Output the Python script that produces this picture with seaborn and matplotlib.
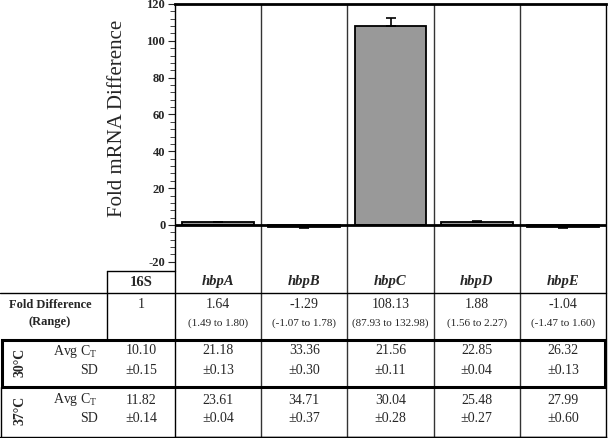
import matplotlib
matplotlib.use("Agg")
import matplotlib.pyplot as plt
import matplotlib.transforms as mtransforms
from matplotlib.lines import Line2D
from matplotlib.patches import Rectangle
from matplotlib.ticker import FixedLocator
import seaborn as sns
import pandas as pd

# ---------------- data ----------------
genes = ['hbpA', 'hbpB', 'hbpC', 'hbpD', 'hbpE']
fold = [1.64, -1.29, 108.13, 1.88, -1.04]
err = [0.2, 0.3, 4.0, 0.2, 0.4]

table_genes = ['16S', 'hbpA', 'hbpB', 'hbpC', 'hbpD', 'hbpE']
fold_text = ['1', '1.64', '-1.29', '108.13', '1.88', '-1.04']
range_text = ['', '(1.49 to 1.80)', '(-1.07 to 1.78)', '(87.93 to 132.98)',
              '(1.56 to 2.27)', '(-1.47 to 1.60)']
ct30 = ['10.10', '21.18', '33.36', '21.56', '22.85', '26.32']
sd30 = ['±0.15', '±0.13', '±0.30', '±0.11', '±0.04', '±0.13']
ct37 = ['11.82', '23.61', '34.71', '30.04', '25.48', '27.99']
sd37 = ['±0.14', '±0.04', '±0.37', '±0.28', '±0.27', '±0.60']

yticks = [-20, 0, 20, 40, 60, 80, 100, 120]

# ---------------- style ----------------
sns.set_style('white')
plt.rcParams['font.family'] = ['Liberation Serif', 'DejaVu Serif']
plt.rcParams['mathtext.fontset'] = 'custom'
plt.rcParams['mathtext.rm'] = 'Liberation Serif'

W, H = 608, 438
fig = plt.figure(figsize=(W / 100, H / 100), dpi=100)

def fx(px):
    return px / W

def fy(py):
    return 1 - py / H

# axes spans from plot top down to table bottom
ax_left, ax_right, ax_top, ax_bot = 175, 606, 4, 437
ax = fig.add_axes([fx(ax_left), fy(ax_bot), fx(ax_right - ax_left), (ax_bot - ax_top) / H])
ax.set_facecolor('white')

df = pd.DataFrame({'gene': genes, 'fold': fold})
sns.barplot(data=df, x='gene', y='fold', color='#999999', edgecolor='black',
            linewidth=1.3, width=0.835, saturation=1, ax=ax, errorbar=None)

# one-sided error bars
lo = [e if v < 0 else 0 for v, e in zip(fold, err)]
hi = [e if v >= 0 else 0 for v, e in zip(fold, err)]
ax.errorbar(range(len(genes)), fold, yerr=[lo, hi], fmt='none', ecolor='black',
            elinewidth=1.2, capsize=3.6, capthick=1.2, zorder=5)

px_per_unit = (225 - 4) / 120.0
ymax = 120
ymin = -(ax_bot - 225) / px_per_unit
ax.set_ylim(ymin, ymax)
ax.set_xlim(-0.5, len(genes) - 0.5)

ax.set_yticks(yticks)
ax.yaxis.set_minor_locator(FixedLocator([v for v in range(-20, 121, 4)]))
ax.set_yticklabels([str(t) for t in yticks], fontsize=9, fontweight='bold')
ax.tick_params(axis='y', which='major', direction='out', length=5, width=0.8, pad=2, left=True)
ax.tick_params(axis='y', which='minor', direction='out', length=3.5, width=0.6, left=True)
ax.tick_params(axis='x', bottom=False, labelbottom=False)
ax.set_xlabel('')
ax.set_ylabel('')

for s in ['left', 'right', 'bottom']:
    ax.spines[s].set_visible(True)
    ax.spines[s].set_color('black')
    ax.spines[s].set_linewidth(1.0)
ax.spines['top'].set_linewidth(2.0)
ax.spines['top'].set_color('black')

ax.axhline(0, color='black', lw=2.0, zorder=4)
for i in range(len(genes) - 1):
    ax.axvline(i + 0.5, color='#333333', lw=1.0)

fig.text(fx(117), fy(118), 'Fold mRNA Difference', rotation=90, ha='center',
         va='center', fontsize=15)

# ---------------- table ----------------
def hline(y, x0, x1, lw=1.0):
    fig.add_artist(Line2D([fx(x0), fx(x1)], [fy(y), fy(y)], color='black', lw=lw))

def vline(x, y0, y1, lw=1.0):
    fig.add_artist(Line2D([fx(x), fx(x)], [fy(y0), fy(y1)], color='black', lw=lw))

hline(271, 107, 175)
vline(107, 271, 339)
hline(293, 0, 606)
hline(437, 0, 606)
vline(0.8, 387, 437)
fig.add_artist(Rectangle((fx(1.5), fy(387)), fx(604.5 - 1.5), (387 - 339.5) / H,
                         fill=False, edgecolor='black', lw=2.2))

trans = mtransforms.blended_transform_factory(ax.transData, fig.transFigure)
col_x = [-0.5 - (175 - 141) / ((ax_right - ax_left) / len(genes))] + list(range(len(genes)))

for i, (x, g) in enumerate(zip(col_x, table_genes)):
    style = 'normal' if i == 0 else 'italic'
    ax.text(x, fy(282), g, transform=trans, ha='center', va='center', fontsize=10.5,
            fontweight='bold', fontstyle=style, clip_on=False)
    ax.text(x, fy(305), fold_text[i], transform=trans, ha='center', va='center',
            fontsize=10, clip_on=False)
    if range_text[i]:
        ax.text(x, fy(323), range_text[i], transform=trans, ha='center', va='center',
                fontsize=8, clip_on=False)
    ax.text(x, fy(351), ct30[i], transform=trans, ha='center', va='center',
            fontsize=10, clip_on=False)
    ax.text(x, fy(370), sd30[i], transform=trans, ha='center', va='center',
            fontsize=10, clip_on=False)
    ax.text(x, fy(400), ct37[i], transform=trans, ha='center', va='center',
            fontsize=10, clip_on=False)
    ax.text(x, fy(418), sd37[i], transform=trans, ha='center', va='center',
            fontsize=10, clip_on=False)

fig.text(fx(50), fy(305), 'Fold Difference', ha='center', va='center', fontsize=9,
         fontweight='bold')
fig.text(fx(50), fy(322), '(Range)', ha='center', va='center', fontsize=9,
         fontweight='bold')

for ylab, yc, yavg, ysd in [('30°C', 362, 351, 370), ('37°C', 410, 400, 418)]:
    fig.text(fx(20), fy(yc), ylab, rotation=90, ha='center', va='center', fontsize=10,
             fontweight='bold')
    fig.text(fx(98), fy(yavg), r'Avg C$_{\mathrm{T}}$', ha='right', va='center', fontsize=10)
    fig.text(fx(98), fy(ysd), 'SD', ha='right', va='center', fontsize=10)

fig.savefig('out.png', dpi=100, facecolor='white')
